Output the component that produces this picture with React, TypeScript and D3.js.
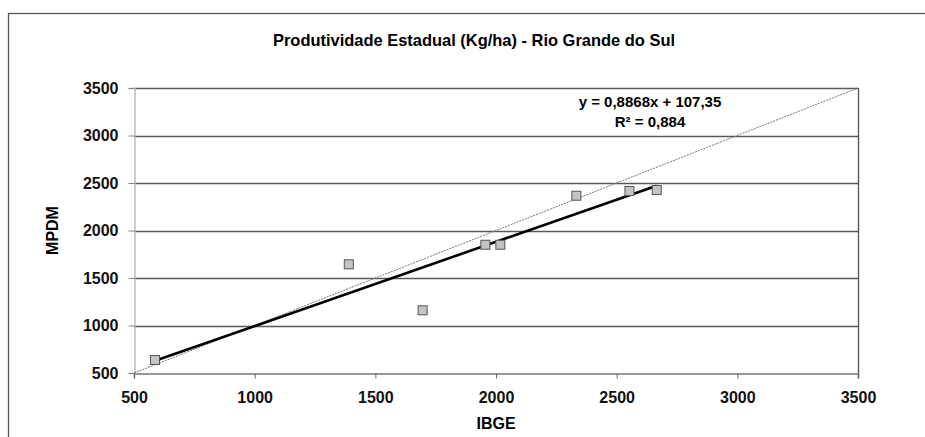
import * as d3 from "d3";
import { useRef, useEffect } from "react";

const ibge = [587, 1390, 1696, 1956, 2018, 2333, 2553, 2666];
const mpdm = [637, 1644, 1160, 1850, 1850, 2366, 2416, 2426];
const tickValues = [500, 1000, 1500, 2000, 2500, 3000, 3500];
const slope = 0.8868;
const intercept = 107.35;
const titleText = "Produtividade Estadual (Kg/ha) - Rio Grande do Sul";
const eqText = "y = 0,8868x + 107,35";
const r2Text = "R² = 0,884";

export default function App() {
  const width = 925;
  const height = 437;
  const marginLeft = 134;
  const marginRight = 67;
  const marginTop = 88;
  const marginBottom = 64;
  const font = "'Liberation Sans', Arial, sans-serif";

  const ref = useRef(null);
  useEffect((): void => {
    if (!ref.current) return;
    const svg = d3.select(ref.current);
    svg.selectAll("*").remove();

    const x = d3.scaleLinear([500, 3500], [marginLeft, width - marginRight]);
    const y = d3.scaleLinear([500, 3500], [height - marginBottom, marginTop]);

    svg.append("rect").attr("width", width).attr("height", height).attr("fill", "#fff");

    // outer chart frame (cut off at right / bottom)
    svg
      .append("rect")
      .attr("x", 8.5)
      .attr("y", 13.5)
      .attr("width", 960)
      .attr("height", 480)
      .attr("fill", "none")
      .attr("stroke", "#555")
      .attr("stroke-width", 1.3);

    // gridlines
    svg
      .append("g")
      .selectAll("line")
      .data(tickValues.slice(1))
      .join("line")
      .attr("x1", x(500))
      .attr("x2", x(3500))
      .attr("y1", (d) => Math.round(y(d)) + 0.5)
      .attr("y2", (d) => Math.round(y(d)) + 0.5)
      .attr("stroke", "#5a5a5a")
      .attr("stroke-width", 1.4);

    // right border of plot
    svg
      .append("line")
      .attr("x1", x(3500) + 0.5)
      .attr("x2", x(3500) + 0.5)
      .attr("y1", y(3500))
      .attr("y2", y(500) + 5)
      .attr("stroke", "#5a5a5a")
      .attr("stroke-width", 1.4);

    // y axis
    const yAxis = svg
      .append("g")
      .attr("transform", `translate(${x(500) + 0.5},0)`)
      .call(d3.axisLeft(y).tickValues(tickValues).tickSize(6).tickPadding(10).tickFormat(d3.format("d")));
    yAxis.select(".domain").attr("stroke", "#b5b5b5").attr("stroke-width", 1.3);
    yAxis.selectAll(".tick line").attr("stroke", "#888");
    yAxis
      .selectAll(".tick text")
      .attr("font-family", font)
      .attr("font-size", 16)
      .attr("font-weight", "bold")
      .attr("fill", "#111");

    // x axis
    const xAxis = svg
      .append("g")
      .attr("transform", `translate(0,${y(500) + 0.5})`)
      .call(d3.axisBottom(x).tickValues(tickValues).tickSize(5).tickPadding(13).tickFormat(d3.format("d")));
    xAxis.select(".domain").attr("stroke", "#777").attr("stroke-width", 1.4);
    xAxis.selectAll(".tick line").attr("stroke", "#666");
    xAxis
      .selectAll(".tick text")
      .attr("font-family", font)
      .attr("font-size", 16)
      .attr("font-weight", "bold")
      .attr("fill", "#111");

    // y = x reference line
    svg
      .append("line")
      .attr("x1", x(500))
      .attr("y1", y(500))
      .attr("x2", x(3500))
      .attr("y2", y(3500))
      .attr("stroke", "#777")
      .attr("stroke-width", 1)
      .attr("stroke-dasharray", "2,1");

    // trendline
    const xMin = d3.min(ibge) as number;
    const xMax = d3.max(ibge) as number;
    svg
      .append("line")
      .attr("x1", x(xMin))
      .attr("y1", y(slope * xMin + intercept))
      .attr("x2", x(xMax))
      .attr("y2", y(slope * xMax + intercept))
      .attr("stroke", "#000")
      .attr("stroke-width", 2.6);

    // points
    const s = 9;
    svg
      .append("g")
      .selectAll("rect")
      .data(ibge.map((v, i) => [v, mpdm[i]]))
      .join("rect")
      .attr("x", (d) => x(d[0]) - s / 2)
      .attr("y", (d) => y(d[1]) - s / 2)
      .attr("width", s)
      .attr("height", s)
      .attr("fill", "#c4c4c4")
      .attr("stroke", "#555")
      .attr("stroke-width", 1);

    // equation
    svg
      .append("text")
      .attr("x", 650)
      .attr("y", 107)
      .attr("text-anchor", "middle")
      .attr("font-family", font)
      .attr("font-size", 15)
      .attr("font-weight", "bold")
      .text(eqText);
    svg
      .append("text")
      .attr("x", 650)
      .attr("y", 127)
      .attr("text-anchor", "middle")
      .attr("font-family", font)
      .attr("font-size", 15)
      .attr("font-weight", "bold")
      .text(r2Text);

    // title
    svg
      .append("text")
      .attr("x", 273)
      .attr("y", 46)
      .attr("font-family", font)
      .attr("font-size", 17)
      .attr("font-weight", "bold")
      .attr("textLength", 402)
      .attr("lengthAdjust", "spacingAndGlyphs")
      .text(titleText);

    // axis titles
    svg
      .append("text")
      .attr("x", (x(500) + x(3500)) / 2)
      .attr("y", 429)
      .attr("text-anchor", "middle")
      .attr("font-family", font)
      .attr("font-size", 16)
      .attr("font-weight", "bold")
      .text("IBGE");
    svg
      .append("text")
      .attr("transform", `translate(58,${(y(500) + y(3500)) / 2}) rotate(-90)`)
      .attr("text-anchor", "middle")
      .attr("font-family", font)
      .attr("font-size", 16)
      .attr("font-weight", "bold")
      .text("MPDM");
  }, []);

  return (
    <svg
      ref={ref}
      width={width}
      height={height}
      style={{ position: "absolute", left: 0, top: 0 }}
    />
  );
}
